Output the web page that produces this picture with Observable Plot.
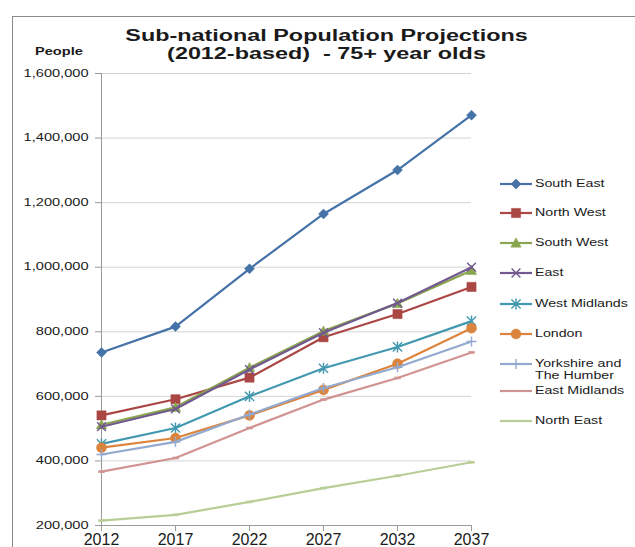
<!DOCTYPE html>
<html>
<head>
<meta charset="utf-8">
<script src="https://cdn.jsdelivr.net/npm/d3@7"></script>
<script src="https://cdn.jsdelivr.net/npm/@observablehq/plot@0.6"></script>
<style>
  html, body { margin: 0; padding: 0; background: #fff; }
  #wrap { position: relative; width: 635px; height: 547px; overflow: hidden; background: #fff;
          font-family: "Liberation Sans", Arial, sans-serif; color: #1a1a1a; }
  #frame { position: absolute; left: 12px; top: 16px; width: 700px; height: 600px; border: 1px solid #8c8c8c; box-sizing: border-box; }
  #chart { position: absolute; left: 0; top: 0; }
  .title { position: absolute; left: 0; width: 653px; text-align: center; font-weight: bold; font-size: 16px;
           transform: scaleX(1.46); transform-origin: 326.5px 0; white-space: pre; line-height: 1; }
  #people { position: absolute; left: 35px; top: 47px; font-weight: bold; font-size: 10px; transform: scaleX(1.46); transform-origin: 0 0; line-height: 1; }
  .leg { position: absolute; left: 500px; height: 16px; }
  .leg svg { position: absolute; left: 0; top: 0; overflow: visible; }
  .leg span { position: absolute; left: 35px; font-size: 10px; line-height: 12px; transform: scaleX(1.42); transform-origin: 0 0; white-space: nowrap; }
</style>
</head>
<body>
<div id="wrap">
  <div id="frame"></div>
  <div id="chart"></div>
  <div class="title" style="top:28px">Sub-national Population Projections</div>
  <div class="title" style="top:46px">(2012-based)  - 75+ year olds</div>
  <div id="people">People</div>
  <div id="legend"></div>
</div>
<script>
// ---- data ----
const years = [2012, 2017, 2022, 2027, 2032, 2037];
const yTicks = [200000, 400000, 600000, 800000, 1000000, 1200000, 1400000, 1600000];
const seriesNames = ["South East", "North West", "South West", "East", "West Midlands", "London", "Yorkshire and The Humber", "East Midlands", "North East"];
const southEast    = [736000, 816000, 995000, 1165000, 1301000, 1471000];
const northWest    = [541000, 591000, 658000, 783000, 855000, 939000];
const southWest    = [512000, 566000, 689000, 802000, 888000, 990000];
const east         = [506000, 561000, 683000, 797000, 889000, 1000000];
const westMidlands = [453000, 502000, 600000, 687000, 753000, 833000];
const london       = [441000, 471000, 541000, 620000, 701000, 811000];
const yorkshire    = [420000, 459000, 544000, 626000, 690000, 770000];
const eastMidlands = [367000, 409000, 502000, 590000, 657000, 736000];
const northEast    = [215000, 233000, 273000, 316000, 354000, 396000];
const seriesValues = [southEast, northWest, southWest, east, westMidlands, london, yorkshire, eastMidlands, northEast];
const seriesColors = ["#4572A7", "#AA4643", "#89A54E", "#71588F", "#4198AF", "#DB843D", "#93A9CF", "#D19392", "#B9CD96"];

// ---- custom marker shapes ----
const rOf = s => Math.sqrt(s / Math.PI);
const shapes = {
  diamond: {draw(c, s) { const r = rOf(s); c.moveTo(0, -r); c.lineTo(r, 0); c.lineTo(0, r); c.lineTo(-r, 0); c.closePath(); }},
  square: {draw(c, s) { const r = rOf(s); c.rect(-r, -r, 2 * r, 2 * r); }},
  triangle: {draw(c, s) { const r = rOf(s); c.moveTo(0, -r); c.lineTo(r, r * 0.8); c.lineTo(-r, r * 0.8); c.closePath(); }},
  times: {draw(c, s) { const r = rOf(s); c.moveTo(-r, -r); c.lineTo(r, r); c.moveTo(-r, r); c.lineTo(r, -r); }},
  asterisk: {draw(c, s) { const r = rOf(s); c.moveTo(-r, -r); c.lineTo(r, r); c.moveTo(-r, r); c.lineTo(r, -r); c.moveTo(0, -r * 1.2); c.lineTo(0, r * 1.2); }},
  circle: {draw(c, s) { const r = rOf(s); c.moveTo(r, 0); c.arc(0, 0, r, 0, 2 * Math.PI); }},
  plus: {draw(c, s) { const r = rOf(s); c.moveTo(-r, 0); c.lineTo(r, 0); c.moveTo(0, -r); c.lineTo(0, r); }},
  dash: {draw(c, s) { const r = rOf(s); c.moveTo(-r, 0); c.lineTo(r, 0); }}
};
const markerSpec = [
  {shape: "diamond", r: 5, filled: true},
  {shape: "square", r: 4.6, filled: true},
  {shape: "triangle", r: 5.2, filled: true},
  {shape: "times", r: 4.4, filled: false},
  {shape: "asterisk", r: 4.6, filled: false},
  {shape: "circle", r: 5, filled: true},
  {shape: "plus", r: 5, filled: false},
  {shape: "dash", r: 3.2, filled: false},
  {shape: "dash", r: 3.2, filled: false}
];

const marks = [
  Plot.ruleY(yTicks.slice(1), {stroke: "#d4d4d4", strokeWidth: 1}),
  Plot.axisY({ticks: yTicks, tickFormat: d3.format(","), tickSize: 6, tickPadding: 7, fontSize: 10, stroke: "#9a9a9a", fill: "#1a1a1a", label: null}),
  Plot.axisX({ticks: years, tickFormat: d => String(d), tickSize: 6, tickPadding: 2, fontSize: 16, stroke: "#9a9a9a", fill: "#1a1a1a", label: null}),
  Plot.ruleX([2012], {stroke: "#9a9a9a"}),
  Plot.ruleY([200000], {stroke: "#9a9a9a"})
];
seriesValues.forEach((vals, i) => {
  const data = years.map((yr, j) => ({year: yr, value: vals[j]}));
  const m = markerSpec[i];
  marks.push(Plot.line(data, {x: "year", y: "value", stroke: seriesColors[i], strokeWidth: 2.2}));
  marks.push(Plot.dot(data, {
    x: "year", y: "value", symbol: shapes[m.shape], r: m.r,
    fill: m.filled ? seriesColors[i] : "none",
    stroke: seriesColors[i], strokeWidth: m.filled ? 0.5 : (m.shape === "dash" ? 2.6 : 1.4)
  }));
});

const chart = Plot.plot({
  width: 635, height: 547,
  marginLeft: 101, marginRight: 164, marginTop: 73, marginBottom: 22,
  x: {domain: [2012, 2037]},
  y: {domain: [200000, 1600000]},
  style: {fontFamily: "'Liberation Sans', Arial, sans-serif", background: "transparent", overflow: "visible"},
  marks
});
document.getElementById("chart").appendChild(chart);

// horizontally stretch the y tick labels like the reference (scale about each label's anchor)
d3.select(chart).selectAll('g[aria-label="y-axis tick label"] text').each(function () {
  const t = this.getAttribute("transform");
  if (!t) return;
  const xa = parseFloat(this.getAttribute("x"));
  if (isFinite(xa) && xa !== 0) this.setAttribute("x", xa / 1.46);
  this.setAttribute("transform", t + " scale(1.46,1)");
});

// ---- legend ----
const legendY = [184, 213, 243, 273, 304, 334, 364, 391, 421];
const legend = d3.select("#legend");
seriesNames.forEach((name, i) => {
  const item = legend.append("div").attr("class", "leg").style("top", (legendY[i] - 8) + "px");
  const svg = item.append("svg").attr("width", 34).attr("height", 16);
  svg.append("line").attr("x1", 0).attr("x2", 32).attr("y1", 8).attr("y2", 8)
    .attr("stroke", seriesColors[i]).attr("stroke-width", 2.2);
  const m = markerSpec[i];
  if (m.shape !== "dash") {
    const size = Math.PI * m.r * m.r;
    svg.append("path").attr("transform", "translate(16,8)")
      .attr("d", d3.symbol(shapes[m.shape], size)())
      .attr("fill", m.filled ? seriesColors[i] : "none")
      .attr("stroke", seriesColors[i]).attr("stroke-width", m.filled ? 0.5 : 1.4);
  }
  const lines = name === "Yorkshire and The Humber" ? ["Yorkshire and", "The Humber"] : [name];
  item.append("span").style("top", "2px").html(lines.join("<br>"));
});
</script>
</body>
</html>
